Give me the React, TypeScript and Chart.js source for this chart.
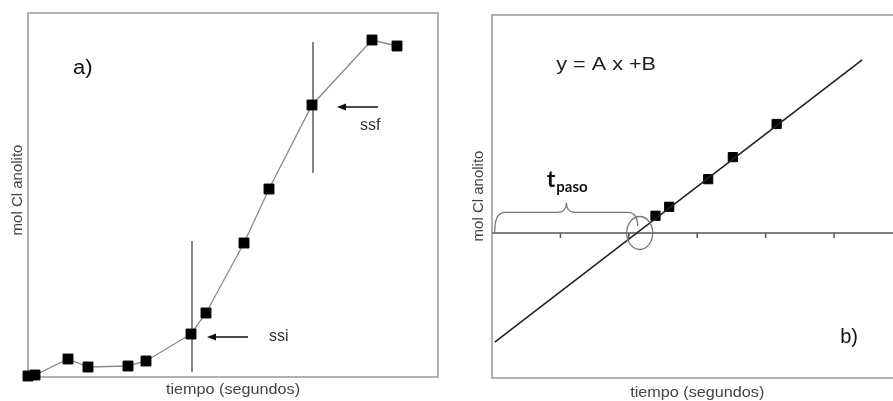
import React, { useEffect, useRef } from "react";
import { Chart, registerables } from "chart.js";

Chart.register(...registerables);

// ---------- Panel a) data ----------
const leftTimes = [0, 0.7, 4.0, 6.0, 10.0, 11.8, 16.3, 17.8, 21.6, 24.1, 28.4, 34.4, 36.9];
const leftMoles = [0.1, 0.2, 1.8, 1.0, 1.1, 1.6, 4.3, 6.4, 13.4, 18.8, 27.2, 33.7, 33.1];
const ssiMarkX = 16.4;
const ssiMarkY = [0.5, 13.6];
const ssfMarkX = 28.5;
const ssfMarkY = [20.4, 33.5];
const ssiArrow = [22.0, 17.9, 4.0]; // tailX, headX, y
const ssfArrow = [35.0, 30.9, 27.0];
const leftXRange = [0, 41];
const leftYRange = [0, 36.4];

// ---------- Panel b) data ----------
const rightTimes = [2.39, 2.59, 3.16, 3.52, 4.16];
const rightMoles = [0.25, 0.38, 0.78, 1.1, 1.58];
const fitX = [0.04, 5.41];
const fitY = [-1.58, 2.51];
const rightTicks = [1, 2, 3, 4, 5];
const rightXRange = [0, 6];
const rightYRange = [-2.101, 3.159];
const tPasoX = 2.13;

const FONT = '"Liberation Sans", Arial, sans-serif';

function drawText(
  ctx: CanvasRenderingContext2D,
  s: string,
  x: number,
  y: number,
  font: string,
  color: string,
  align: CanvasTextAlign,
  baseline: CanvasTextBaseline,
  sx = 1,
  rot = 0
) {
  ctx.save();
  ctx.translate(x, y);
  if (rot) ctx.rotate(rot);
  ctx.scale(sx, 1);
  ctx.font = font;
  ctx.fillStyle = color;
  ctx.textAlign = align;
  ctx.textBaseline = baseline;
  ctx.fillText(s, 0, 0);
  ctx.restore();
}

function drawArrow(ctx: CanvasRenderingContext2D, x1: number, x2: number, y: number) {
  ctx.save();
  ctx.strokeStyle = "#111";
  ctx.fillStyle = "#111";
  ctx.lineWidth = 1.5;
  ctx.beginPath();
  ctx.moveTo(x1, y);
  ctx.lineTo(x2 + 6, y);
  ctx.stroke();
  ctx.beginPath();
  ctx.moveTo(x2, y);
  ctx.lineTo(x2 + 9, y - 3.5);
  ctx.lineTo(x2 + 9, y + 3.5);
  ctx.closePath();
  ctx.fill();
  ctx.restore();
}

function frame(ctx: CanvasRenderingContext2D, a: any) {
  ctx.save();
  ctx.strokeStyle = "#aaaaaa";
  ctx.lineWidth = 1.8;
  ctx.strokeRect(a.left, a.top, a.right - a.left, a.bottom - a.top);
  ctx.restore();
}

const leftPlugin = {
  id: "leftDecor",
  beforeDatasetsDraw(chart: any) {
    frame(chart.ctx, chart.chartArea);
  },
  afterDatasetsDraw(chart: any) {
    const ctx = chart.ctx as CanvasRenderingContext2D;
    const a = chart.chartArea;
    const xs = chart.scales.x;
    const ys = chart.scales.y;
    drawArrow(ctx, xs.getPixelForValue(ssiArrow[0]), xs.getPixelForValue(ssiArrow[1]), ys.getPixelForValue(ssiArrow[2]));
    drawArrow(ctx, xs.getPixelForValue(ssfArrow[0]), xs.getPixelForValue(ssfArrow[1]), ys.getPixelForValue(ssfArrow[2]));
    drawText(ctx, "ssi", xs.getPixelForValue(24.1), ys.getPixelForValue(4.0), `16px ${FONT}`, "#333", "left", "middle");
    drawText(ctx, "ssf", xs.getPixelForValue(33.2), ys.getPixelForValue(25.1), `16px ${FONT}`, "#333", "left", "middle");
    drawText(ctx, "a)", xs.getPixelForValue(4.5), ys.getPixelForValue(30.9), `20px ${FONT}`, "#111", "left", "middle", 1.1);
    drawText(ctx, "tiempo (segundos)", (a.left + a.right) / 2, a.bottom + 13, `15px ${FONT}`, "#444", "center", "middle", 1.08);
    drawText(ctx, "mol Cl anolito", a.left - 10, 190, `15px ${FONT}`, "#444", "center", "middle", 1, -Math.PI / 2);
  },
};

const rightPlugin = {
  id: "rightDecor",
  beforeDatasetsDraw(chart: any) {
    const ctx = chart.ctx as CanvasRenderingContext2D;
    const a = chart.chartArea;
    const xs = chart.scales.x;
    const ys = chart.scales.y;
    frame(ctx, a);
    const y0 = ys.getPixelForValue(0);
    ctx.save();
    ctx.strokeStyle = "#555";
    ctx.lineWidth = 1.5;
    ctx.beginPath();
    ctx.moveTo(a.left, y0);
    ctx.lineTo(a.right, y0);
    rightTicks.forEach((t) => {
      const px = xs.getPixelForValue(t);
      ctx.moveTo(px, y0);
      ctx.lineTo(px, y0 + 5);
    });
    ctx.stroke();
    ctx.restore();
  },
  afterDatasetsDraw(chart: any) {
    const ctx = chart.ctx as CanvasRenderingContext2D;
    const a = chart.chartArea;
    const xs = chart.scales.x;
    const ys = chart.scales.y;
    // ellipse at the crossing
    const cx = xs.getPixelForValue(tPasoX) + 2;
    const cy = ys.getPixelForValue(0);
    ctx.save();
    ctx.strokeStyle = "#777";
    ctx.lineWidth = 1.3;
    ctx.beginPath();
    ctx.ellipse(cx, cy, 13, 16.5, 0, 0, Math.PI * 2);
    ctx.stroke();
    // brace
    const x1 = xs.getPixelForValue(0.04);
    const x2 = xs.getPixelForValue(tPasoX);
    const xt = xs.getPixelForValue(1.087);
    const yb = ys.getPixelForValue(0.02);
    const ym = ys.getPixelForValue(0.3);
    const yt = ys.getPixelForValue(0.44);
    const yr = ys.getPixelForValue(0.1);
    ctx.beginPath();
    ctx.moveTo(x1, yb);
    ctx.quadraticCurveTo(x1, ym, x1 + 10, ym);
    ctx.lineTo(xt - 9, ym);
    ctx.quadraticCurveTo(xt, ym, xt, yt);
    ctx.quadraticCurveTo(xt, ym, xt + 9, ym);
    ctx.lineTo(x2 - 10, ym);
    ctx.quadraticCurveTo(x2, ym, x2, yr);
    ctx.stroke();
    ctx.restore();
    // t_paso
    const tx = xs.getPixelForValue(0.8);
    const tb = ys.getPixelForValue(0.67);
    drawText(ctx, "t", tx, tb, `bold 23px Lato, ${FONT}`, "#111", "left", "alphabetic");
    ctx.save();
    ctx.font = `bold 23px Lato, ${FONT}`;
    const tw = ctx.measureText("t").width;
    ctx.restore();
    drawText(ctx, "paso", tx + tw + 1, tb + 5, `bold 15px Lato, ${FONT}`, "#111", "left", "alphabetic");
    drawText(ctx, "y = A x +B", xs.getPixelForValue(0.94), ys.getPixelForValue(2.43), `18px ${FONT}`, "#222", "left", "middle", 1.2);
    drawText(ctx, "b)", xs.getPixelForValue(5.09), ys.getPixelForValue(-1.52), `20px ${FONT}`, "#111", "left", "middle");
    drawText(ctx, "tiempo (segundos)", (a.left + a.right) / 2, a.bottom + 15, `15px ${FONT}`, "#444", "center", "middle", 1.08);
    drawText(ctx, "mol Cl anolito", a.left - 13, 196, `15px ${FONT}`, "#444", "center", "middle", 1, -Math.PI / 2);
  },
};

function hiddenScales(xr: number[], yr: number[]) {
  return {
    x: { type: "linear" as const, min: xr[0], max: xr[1], display: false },
    y: { type: "linear" as const, min: yr[0], max: yr[1], display: false },
  };
}

export default function App() {
  const leftRef = useRef<HTMLCanvasElement>(null);
  const rightRef = useRef<HTMLCanvasElement>(null);

  useEffect(() => {
    const left = new Chart(leftRef.current!, {
      type: "scatter",
      data: {
        datasets: [
          {
            data: leftTimes.map((t, i) => ({ x: t, y: leftMoles[i] })),
            showLine: true,
            borderColor: "#8a8a8a",
            borderWidth: 1.3,
            pointStyle: "rect",
            pointRadius: 7,
            pointBackgroundColor: "#000",
            pointBorderColor: "#000",
            pointBorderWidth: 1,
            clip: false,
          },
          {
            data: ssiMarkY.map((y) => ({ x: ssiMarkX, y })),
            showLine: true,
            borderColor: "#444",
            borderWidth: 1.3,
            pointRadius: 0,
            clip: false,
          },
          {
            data: ssfMarkY.map((y) => ({ x: ssfMarkX, y })),
            showLine: true,
            borderColor: "#444",
            borderWidth: 1.3,
            pointRadius: 0,
            clip: false,
          },
        ],
      },
      options: {
        responsive: false,
        animation: false,
        layout: { padding: { left: 28, top: 13, right: 27, bottom: 24 } },
        scales: hiddenScales(leftXRange, leftYRange),
        plugins: { legend: { display: false }, tooltip: { enabled: false } },
        events: [],
      },
      plugins: [leftPlugin],
    });

    const right = new Chart(rightRef.current!, {
      type: "scatter",
      data: {
        datasets: [
          {
            data: fitX.map((x, i) => ({ x, y: fitY[i] })),
            showLine: true,
            borderColor: "#222",
            borderWidth: 1.6,
            pointRadius: 0,
            clip: false,
          },
          {
            data: rightTimes.map((t, i) => ({ x: t, y: rightMoles[i] })),
            showLine: false,
            pointStyle: "rect",
            pointRadius: 6.5,
            pointBackgroundColor: "#000",
            pointBorderColor: "#000",
            pointBorderWidth: 1,
            clip: false,
          },
        ],
      },
      options: {
        responsive: false,
        animation: false,
        layout: { padding: { left: 22, top: 15, right: 4, bottom: 23 } },
        scales: hiddenScales(rightXRange, rightYRange),
        plugins: { legend: { display: false }, tooltip: { enabled: false } },
        events: [],
      },
      plugins: [rightPlugin],
    });

    return () => {
      left.destroy();
      right.destroy();
    };
  }, []);

  return (
    <div
      style={{
        position: "fixed",
        left: 0,
        top: 0,
        width: 893,
        height: 401,
        overflow: "hidden",
        background: "#fff",
      }}
    >
      <canvas ref={leftRef} width={465} height={401} style={{ position: "absolute", left: 0, top: 0 }} />
      <canvas ref={rightRef} width={440} height={401} style={{ position: "absolute", left: 470, top: 0 }} />
    </div>
  );
}
